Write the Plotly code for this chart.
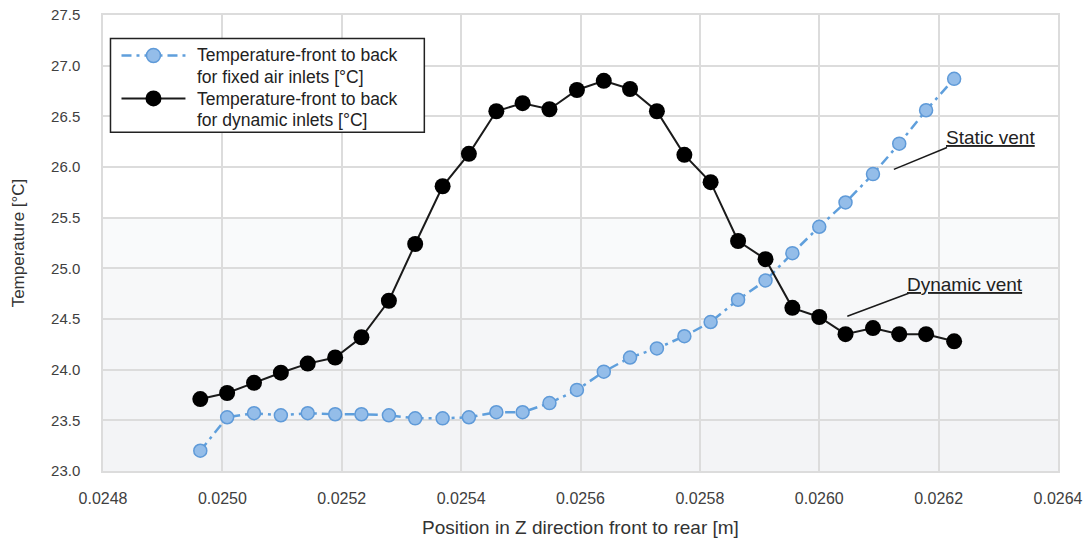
import plotly.graph_objects as go

# Positions along Z (m) and temperatures (°C) for both inlet configurations
position_m = [
    0.024963, 0.025008, 0.025053, 0.025098, 0.025143, 0.025189, 0.025233,
    0.025279, 0.025323, 0.025369, 0.025413, 0.025459, 0.025503, 0.025548,
    0.025594, 0.025639, 0.025683, 0.025728, 0.025774, 0.025818, 0.025864,
    0.025910, 0.025955, 0.026000, 0.026044, 0.026090, 0.026134, 0.026179,
    0.026226,
]
temp_fixed = [
    23.20, 23.53, 23.57, 23.55, 23.57, 23.56, 23.56, 23.55, 23.52, 23.52,
    23.53, 23.58, 23.58, 23.67, 23.80, 23.98, 24.12, 24.21, 24.33, 24.47,
    24.69, 24.88, 25.15, 25.41, 25.65, 25.93, 26.23, 26.56, 26.87,
]
temp_dynamic = [
    23.71, 23.77, 23.87, 23.97, 24.06, 24.12, 24.32, 24.68, 25.24, 25.81,
    26.13, 26.55, 26.63, 26.57, 26.76, 26.85, 26.77, 26.55, 26.12, 25.85,
    25.27, 25.09, 24.61, 24.52, 24.35, 24.41, 24.35, 24.35, 24.28,
]
series_lines = [
    ["Temperature-front to back", "for fixed air inlets [°C]"],
    ["Temperature-front to back", "for dynamic inlets [°C]"],
]
x_ticks = [0.0248, 0.0250, 0.0252, 0.0254, 0.0256, 0.0258, 0.0260, 0.0262, 0.0264]
y_ticks = [23.0, 23.5, 24.0, 24.5, 25.0, 25.5, 26.0, 26.5, 27.0, 27.5]

FONT = "Liberation Sans, Arial, sans-serif"
GRID = "#dcdcdc"
BLUE_LINE = "#5f9fdc"
BLUE_FILL = "#94bde9"
BLUE_EDGE = "#5f9ad8"
INK = "#1a1a1a"

# Figure and plot-area geometry in pixels
FIG_W, FIG_H = 1083, 539
M_L, M_R, M_T, M_B = 102.5, 25, 14.5, 68
PW, PH = FIG_W - M_L - M_R, FIG_H - M_T - M_B


def px(x):
    return (x - M_L) / PW


def py(y):
    return 1 - (y - M_T) / PH


fig = go.Figure()

fig.add_trace(go.Scatter(
    x=position_m, y=temp_fixed, name=" ".join(series_lines[0]), mode="lines+markers",
    line=dict(color=BLUE_LINE, width=2.5, dash="10px,5px,3px,5px"),
    marker=dict(size=13, color=BLUE_FILL, line=dict(color=BLUE_EDGE, width=1.5)),
))
fig.add_trace(go.Scatter(
    x=position_m, y=temp_dynamic, name=" ".join(series_lines[1]), mode="lines+markers",
    line=dict(color=INK, width=2),
    marker=dict(size=16, color="#000000"),
))

# Soft grey shading over the lower part of the plot area
bands = [
    (25.5, 25.0, "#f9fafb"),
    (25.0, 24.5, "#f7f8f9"),
    (24.5, 24.0, "#f5f6f8"),
    (24.0, 23.5, "#f4f5f7"),
    (23.5, 23.0, "#f3f4f6"),
]
for top, bottom, colour in bands:
    fig.add_shape(type="rect", xref="paper", yref="y", x0=0, x1=1, y0=bottom, y1=top,
                  fillcolor=colour, line=dict(width=0), layer="below")

# Leader lines and labels for the two vents
fig.add_shape(type="line", x0=0.026125, y0=25.976, x1=0.026214, y1=26.193,
              line=dict(color=INK, width=1.5))
fig.add_shape(type="line", x0=0.026047, y0=24.527, x1=0.026150, y1=24.754,
              line=dict(color=INK, width=1.5))
fig.add_annotation(x=0.026210, y=26.287, text="<u>Static vent</u>", showarrow=False,
                   xanchor="left", yanchor="middle", borderpad=0,
                   font=dict(family=FONT, size=19, color="#222222"))
fig.add_annotation(x=0.026146, y=24.842, text="<u>Dynamic vent</u>", showarrow=False,
                   xanchor="left", yanchor="middle", borderpad=0,
                   font=dict(family=FONT, size=19, color="#222222"))

# Legend box with line/marker samples and two-line entry labels
fig.add_shape(type="rect", xref="paper", yref="paper",
              x0=px(110), x1=px(424), y0=py(132), y1=py(38),
              fillcolor="white", line=dict(color="#222222", width=1.5))
sample_rows = [55, 98]
fig.add_shape(type="line", xref="paper", yref="paper",
              x0=px(121), x1=px(185), y0=py(sample_rows[0]), y1=py(sample_rows[0]),
              line=dict(color=BLUE_LINE, width=2.5, dash="10px,5px,3px,5px"))
fig.add_shape(type="circle", xref="paper", yref="paper",
              xsizemode="pixel", ysizemode="pixel",
              xanchor=px(153), yanchor=py(sample_rows[0]), x0=-7, x1=7, y0=-7, y1=7,
              fillcolor=BLUE_FILL, line=dict(color=BLUE_EDGE, width=1.5))
fig.add_shape(type="line", xref="paper", yref="paper",
              x0=px(121), x1=px(185), y0=py(sample_rows[1]), y1=py(sample_rows[1]),
              line=dict(color=INK, width=2))
fig.add_shape(type="circle", xref="paper", yref="paper",
              xsizemode="pixel", ysizemode="pixel",
              xanchor=px(153), yanchor=py(sample_rows[1]), x0=-8, x1=8, y0=-8, y1=8,
              fillcolor="#000000", line=dict(color="#000000", width=0))
text_rows = [54.5, 76.5, 98.5, 120]
labels = series_lines[0] + series_lines[1]
for row, label in zip(text_rows, labels):
    fig.add_annotation(xref="paper", yref="paper", x=px(196), y=py(row), text=label,
                       showarrow=False, xanchor="left", yanchor="middle", borderpad=0,
                       font=dict(family=FONT, size=17.5, color="#222222"))

fig.update_layout(
    width=FIG_W, height=FIG_H,
    margin=dict(l=M_L, r=M_R, t=M_T, b=M_B, autoexpand=False),
    paper_bgcolor="white", plot_bgcolor="white",
    font=dict(family=FONT, color="#333333"),
    showlegend=False,
)
fig.update_xaxes(
    range=[0.0248, 0.0264], tickvals=x_ticks, tickformat=".4f", automargin=False,
    showgrid=True, gridcolor=GRID, gridwidth=1.5,
    showline=True, linecolor=GRID, linewidth=1.5, mirror=True,
    zeroline=False, ticks="", ticklabelstandoff=12,
    tickfont=dict(family=FONT, size=16, color="#404040"),
    title=dict(text="Position in Z direction front to rear [m]", standoff=15,
               font=dict(family=FONT, size=19, color="#333333")),
)
fig.update_yaxes(
    range=[23.0, 27.5], tickvals=y_ticks, tickformat=".1f", automargin=False,
    showgrid=True, gridcolor=GRID, gridwidth=1.5,
    showline=True, linecolor=GRID, linewidth=1.5, mirror=True,
    zeroline=False, ticks="", ticklabelstandoff=18,
    tickfont=dict(family=FONT, size=15, color="#404040"),
    title=dict(text="Temperature [°C]", standoff=22,
               font=dict(family=FONT, size=17, color="#333333")),
)

fig.write_html("out.html")
